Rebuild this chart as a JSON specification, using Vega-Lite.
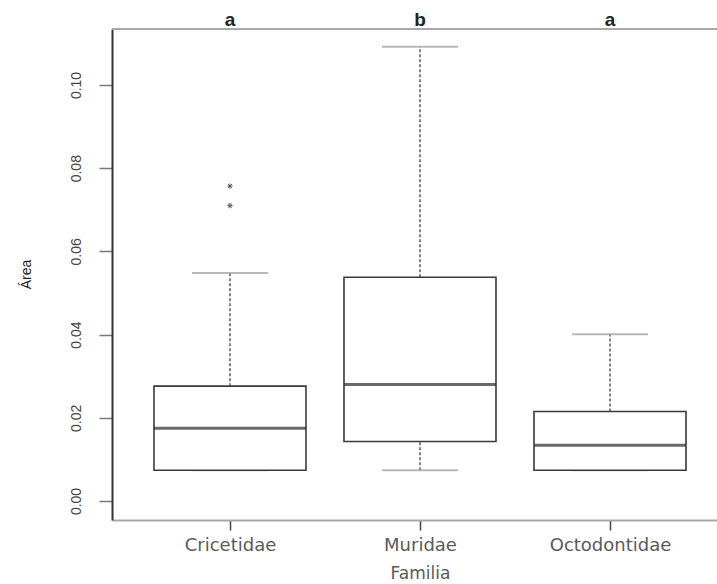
{
  "$schema": "https://vega.github.io/schema/vega-lite/v6.json",
  "autosize": "none",
  "padding": {"left": 112, "top": 29, "right": 0, "bottom": 64},
  "width": 605,
  "height": 491,
  "background": "white",
  "config": {"view": {"stroke": null}},
  "datasets": {
    "stats": [
      {"familia": "Cricetidae", "lower": 0.0074, "q1": 0.0074, "median": 0.0175, "q3": 0.0276, "upper": 0.0548, "letter": "a"},
      {"familia": "Muridae", "lower": 0.0074, "q1": 0.0143, "median": 0.028, "q3": 0.0538, "upper": 0.1092, "letter": "b"},
      {"familia": "Octodontidae", "lower": 0.0074, "q1": 0.0074, "median": 0.0134, "q3": 0.0215, "upper": 0.0401, "letter": "a"}
    ],
    "outliers": [
      {"familia": "Cricetidae", "area": 0.0757},
      {"familia": "Cricetidae", "area": 0.071}
    ]
  },
  "data": {"name": "stats"},
  "layer": [
    {
      "mark": {"type": "rule", "color": "#333333", "strokeWidth": 1.2, "strokeDash": [3, 2]},
      "encoding": {
        "x": {
          "field": "familia", "type": "nominal", "sort": ["Cricetidae", "Muridae", "Octodontidae"],
          "scale": {"type": "point", "padding": 0.592, "align": 0.5244},
          "axis": {
            "orient": "bottom", "title": "Familia", "labelAngle": 0,
            "labelFont": "DejaVu Sans", "labelFontSize": 18, "labelFontWeight": "normal", "labelColor": "#5a5a5a",
            "labelBaseline": "alphabetic", "labelPadding": 20,
            "tickSize": 10, "tickColor": "#444444", "tickWidth": 1.5,
            "domainColor": "#a8a8a8", "domainWidth": 2,
            "titleFont": "DejaVu Sans", "titleFontSize": 17, "titleFontWeight": "normal", "titleColor": "#5a5a5a",
            "titleX": 308, "titleY": 58, "titleAlign": "center", "titleBaseline": "alphabetic"
          }
        },
        "y": {
          "field": "q3", "type": "quantitative",
          "scale": {"domain": [-0.00457, 0.11346], "nice": false, "zero": false},
          "axis": {
            "values": [0, 0.02, 0.04, 0.06, 0.08, 0.1], "format": ".2f", "grid": false,
            "labelAngle": -90, "labelAlign": "center", "labelBaseline": "alphabetic", "labelPadding": 19,
            "labelFont": "Liberation Sans", "labelFontSize": 14, "labelColor": "#444444",
            "tickSize": 13, "tickColor": "#777777", "tickWidth": 1.5,
            "domainColor": "#333333", "domainWidth": 2,
            "title": "Área", "titleFont": "Liberation Sans", "titleFontSize": 14, "titleFontWeight": "normal",
            "titleColor": "#222222", "titleAngle": -90, "titleX": -82, "titleY": 245,
            "titleAlign": "center", "titleBaseline": "alphabetic"
          }
        },
        "y2": {"field": "upper"}
      }
    },
    {
      "mark": {"type": "rule", "color": "#333333", "strokeWidth": 1.2, "strokeDash": [3, 2]},
      "encoding": {
        "x": {"field": "familia", "type": "nominal", "sort": ["Cricetidae", "Muridae", "Octodontidae"]},
        "y": {"field": "lower", "type": "quantitative"},
        "y2": {"field": "q1"}
      }
    },
    {
      "mark": {"type": "tick", "size": 76, "thickness": 2, "color": "#9a9a9a"},
      "encoding": {
        "x": {"field": "familia", "type": "nominal", "sort": ["Cricetidae", "Muridae", "Octodontidae"]},
        "y": {"field": "upper", "type": "quantitative"}
      }
    },
    {
      "mark": {"type": "tick", "size": 76, "thickness": 2, "color": "#9a9a9a"},
      "encoding": {
        "x": {"field": "familia", "type": "nominal", "sort": ["Cricetidae", "Muridae", "Octodontidae"]},
        "y": {"field": "lower", "type": "quantitative"}
      }
    },
    {
      "mark": {"type": "bar", "size": 152, "fill": "white", "stroke": "#3a3a3a", "strokeWidth": 1.6},
      "encoding": {
        "x": {"field": "familia", "type": "nominal", "sort": ["Cricetidae", "Muridae", "Octodontidae"]},
        "y": {"field": "q1", "type": "quantitative"},
        "y2": {"field": "q3"}
      }
    },
    {
      "mark": {"type": "tick", "size": 152, "thickness": 3, "color": "#2a2a2a"},
      "encoding": {
        "x": {"field": "familia", "type": "nominal", "sort": ["Cricetidae", "Muridae", "Octodontidae"]},
        "y": {"field": "median", "type": "quantitative"}
      }
    },
    {
      "data": {"name": "outliers"},
      "mark": {"type": "point", "shape": "M-1,0L1,0M0,-1L0,1M-0.7,-0.7L0.7,0.7M-0.7,0.7L0.7,-0.7", "size": 28, "filled": false, "strokeWidth": 1, "color": "#555555", "opacity": 1},
      "encoding": {
        "x": {"field": "familia", "type": "nominal", "sort": ["Cricetidae", "Muridae", "Octodontidae"]},
        "y": {"field": "area", "type": "quantitative"}
      }
    },
    {
      "mark": {"type": "rule", "color": "#a8a8a8", "strokeWidth": 2},
      "encoding": {
        "y": {"datum": 0.11346, "type": "quantitative"}
      }
    },
    {
      "mark": {"type": "text", "font": "Liberation Sans", "fontSize": 19, "fontWeight": "bold", "color": "#222222", "baseline": "alphabetic", "dy": -3},
      "encoding": {
        "x": {"field": "familia", "type": "nominal", "sort": ["Cricetidae", "Muridae", "Octodontidae"]},
        "y": {"datum": 0.11346, "type": "quantitative"},
        "text": {"field": "letter"}
      }
    }
  ]
}
